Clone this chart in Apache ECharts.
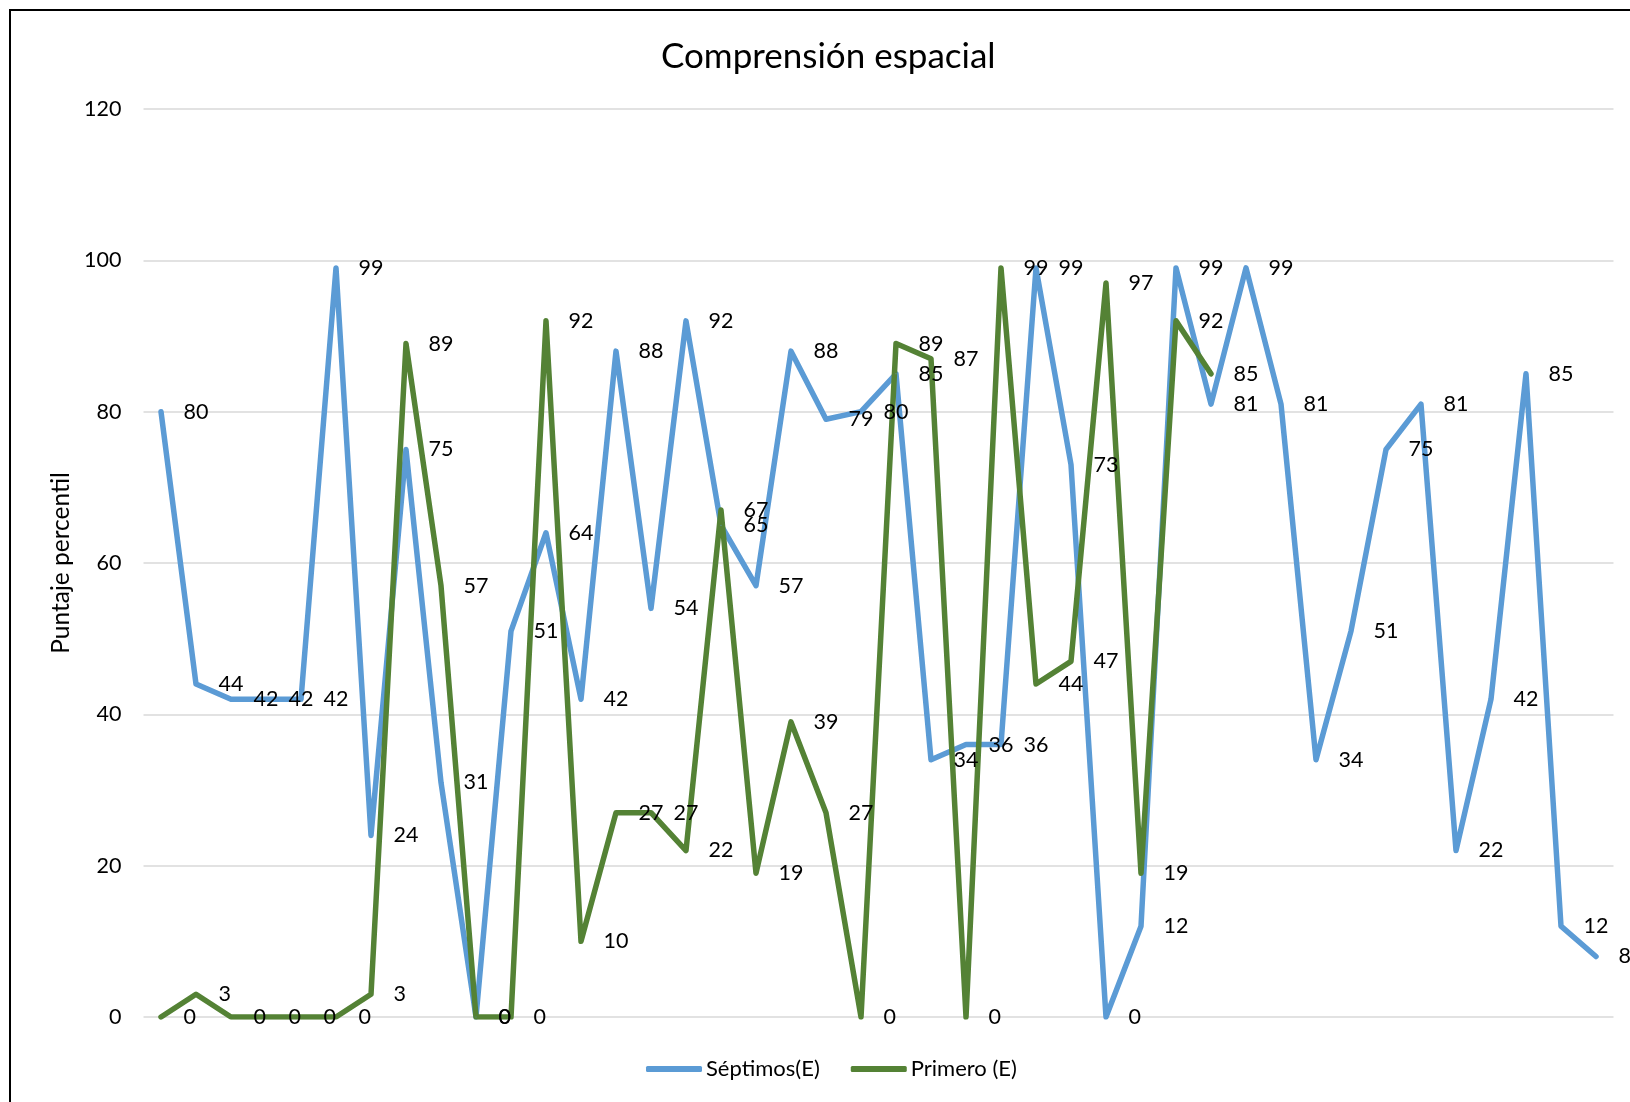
<!DOCTYPE html>
<html>
<head>
<meta charset="utf-8">
<title>Comprensión espacial</title>
<script src="https://cdn.jsdelivr.net/npm/echarts@6/dist/echarts.min.js"></script>
<style>
  html, body { margin: 0; padding: 0; background: #fff; }
  #chart { width: 1630px; height: 1102px; }
</style>
</head>
<body>
<div id="chart"></div>
<script>
// Student numbers along the horizontal axis (not labelled on the chart)
const estudiantes = ['1','2','3','4','5','6','7','8','9','10','11','12','13','14',
  '15','16','17','18','19','20','21','22','23','24','25','26','27','28',
  '29','30','31','32','33','34','35','36','37','38','39','40','41','42'];

// Percentile scores, seventh-grade group
const septimos = [80, 44, 42, 42, 42, 99, 24, 75, 31, 0, 51, 64, 42, 88, 54, 92, 65, 57,
  88, 79, 80, 85, 34, 36, 36, 99, 73, 0, 12, 99, 81, 99, 81, 34, 51, 75, 81, 22, 42, 85, 12, 8];

// Percentile scores, first-grade group
const primero = [0, 3, 0, 0, 0, 0, 3, 89, 57, 0, 0, 92, 10, 27, 27, 22, 67, 19, 39, 27,
  0, 89, 87, 0, 99, 44, 47, 97, 19, 92, 85];

const yTicks = { min: 0, max: 120, interval: 20 };

const FONT = 'Lato, "Open Sans", sans-serif';
const BLUE = '#5B9BD5';
const GREEN = '#548235';

const chart = echarts.init(document.getElementById('chart'), null, { renderer: 'canvas' });

function lineSeries(name, data, color) {
  return {
    name: name,
    type: 'line',
    data: data,
    symbol: 'circle',
    symbolSize: 1,
    itemStyle: { color: color },
    lineStyle: { color: color, width: 5.5, cap: 'round', join: 'round' },
    label: {
      show: true,
      position: 'right',
      distance: 22,
      color: '#000',
      fontFamily: FONT,
      fontSize: 21.5
    },
    emphasis: { disabled: true },
    animation: false
  };
}

chart.setOption({
  backgroundColor: '#fff',
  animation: false,
  title: {
    text: 'Comprensión espacial',
    left: 656,
    top: 34,
    textStyle: { fontFamily: FONT, fontSize: 35, fontWeight: 'normal', color: '#000' }
  },
  graphic: [{
    type: 'rect',
    shape: { x: 10, y: 10, width: 1700, height: 1200 },
    style: { fill: null, stroke: '#000', lineWidth: 2 },
    silent: true
  }],
  grid: { left: 143.5, right: 16.5, top: 109, bottom: 85, containLabel: false },
  legend: {
    left: 641,
    top: 1053,
    icon: 'roundRect',
    itemWidth: 56,
    itemHeight: 6,
    itemGap: 31,
    textStyle: { fontFamily: FONT, fontSize: 22, color: '#000', padding: [0, 0, 0, -1] },
    data: ['Séptimos(E)', 'Primero (E)']
  },
  xAxis: {
    type: 'category',
    data: estudiantes,
    boundaryGap: true,
    axisLine: { show: false },
    axisTick: { show: false },
    axisLabel: { show: false },
    splitLine: { show: false }
  },
  yAxis: {
    type: 'value',
    min: yTicks.min,
    max: yTicks.max,
    interval: yTicks.interval,
    name: 'Puntaje percentil',
    nameLocation: 'middle',
    nameGap: 68,
    nameTextStyle: { fontFamily: FONT, fontSize: 24.5, color: '#000' },
    axisLine: { show: false },
    axisTick: { show: false },
    axisLabel: { fontFamily: FONT, fontSize: 21.5, color: '#000', margin: 22 },
    splitLine: { lineStyle: { color: '#D9D9D9', width: 1.5 } }
  },
  series: [
    lineSeries('Séptimos(E)', septimos, BLUE),
    lineSeries('Primero (E)', primero, GREEN)
  ]
});
</script>
</body>
</html>
